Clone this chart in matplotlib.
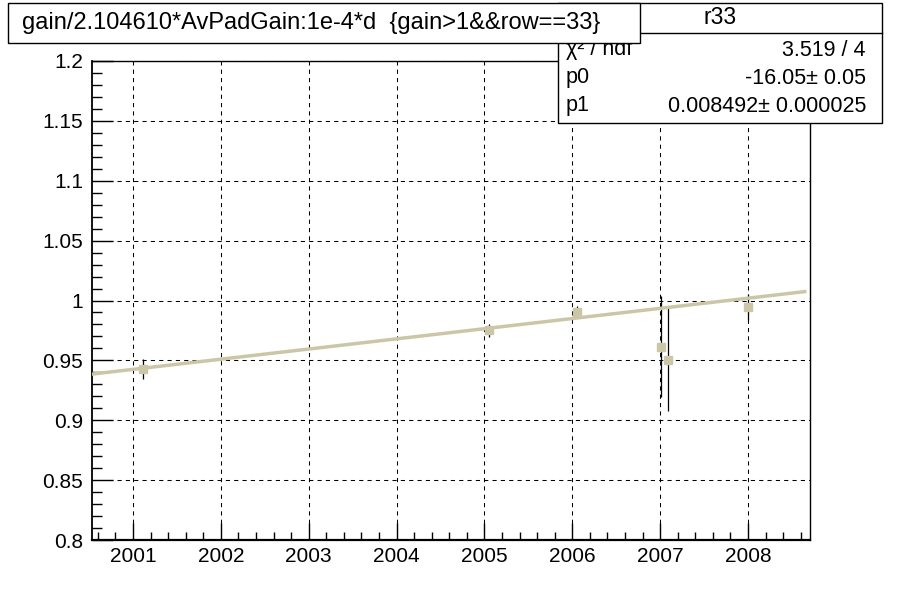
import matplotlib
matplotlib.use("Agg")
import matplotlib.pyplot as plt
import numpy as np
from matplotlib.patches import Rectangle
from matplotlib.ticker import MultipleLocator, FormatStrFormatter

plt.rcParams['font.family'] = ['Liberation Sans', 'DejaVu Sans']

# data points (year, relative gain, error)
years = [2001.12, 2005.05, 2006.05, 2007.01, 2007.09, 2008.00]
gain = [0.943, 0.975, 0.990, 0.9615, 0.9505, 0.9945]
gain_err = [0.0085, 0.0055, 0.005, 0.042, 0.043, 0.011]

# fit result pol1
p0 = -16.05
p1 = 0.008492
title = "gain/2.104610*AvPadGain:1e-4*d  {gain>1&&row==33}"
stats_name = "r33"
stats_rows = [("\u03c7\u00b2 / ndf", "3.519 / 4"),
              ("p0", "-16.05\u00b1 0.05"),
              ("p1", "0.008492\u00b1 0.000025")]

tan = "#ccc6a8"
xmin, xmax = 2000.534, 2008.705

fig = plt.figure(figsize=(9, 6), dpi=100)
ax = fig.add_axes([92 / 900, 60 / 600, 718 / 900, 479 / 600])
ax.set_xlim(xmin, xmax)
ax.set_ylim(0.8, 1.2)

# grid
ax.grid(True, which="major", color="black", lw=0.75, ls=(0, (4, 4)))
ax.set_axisbelow(True)

# error bars + markers
ax.errorbar(years, gain, yerr=gain_err, fmt="none", ecolor="black",
            elinewidth=0.9, capsize=0, zorder=3)
ax.plot(years, gain, "s", color=tan, ms=6.3, mec=tan, zorder=4)

# fit line
xf = np.linspace(xmin, xmax - 0.06, 200)
ax.plot(xf, p0 + p1 * xf, color=tan, lw=2.5, zorder=5)

# axes style (ROOT-like)
ax.xaxis.set_major_locator(MultipleLocator(1))
ax.xaxis.set_minor_locator(MultipleLocator(0.2))
ax.yaxis.set_major_locator(MultipleLocator(0.05))
ax.yaxis.set_minor_locator(MultipleLocator(0.01))
ax.xaxis.set_major_formatter(FormatStrFormatter("%d"))
ax.yaxis.set_major_formatter(
    matplotlib.ticker.FuncFormatter(lambda v, p: ("%.2f" % v).rstrip("0").rstrip(".") if abs(v - 1) > 1e-9 else "1"))
ax.tick_params(axis="both", which="both", direction="in", top=False,
               right=False, labelsize=15, color="black", width=1)
ax.tick_params(axis="y", which="major", length=15, pad=6.5)
ax.tick_params(axis="y", which="minor", length=7.2)
ax.tick_params(axis="x", which="major", length=12, pad=5)
ax.tick_params(axis="x", which="minor", length=5.8)
for s in ax.spines.values():
    s.set_linewidth(1.0)
ax.spines["bottom"].set_linewidth(1.6)
ax.spines["left"].set_linewidth(1.3)


def fx(px):
    return px / 900


def fy(py):
    return 1 - py / 600


# stats box
sb = Rectangle((fx(558), fy(123)), fx(882) - fx(558), fy(3) - fy(123),
               transform=fig.transFigure, facecolor="white",
               edgecolor="black", lw=1.0, zorder=10)
fig.add_artist(sb)
fig.add_artist(plt.Line2D([fx(558), fx(882)], [fy(33), fy(33)],
                          transform=fig.transFigure, color="black", lw=1.0, zorder=11))
fig.text(fx(720), fy(18), stats_name, ha="center", va="center", fontsize=16.5, zorder=12)
for i, (lab, val) in enumerate(stats_rows):
    yy = fy(50 + 28 * i)
    fig.text(fx(566), yy, lab, ha="left", va="center", fontsize=15.5, zorder=12)
    fig.text(fx(866), yy, val, ha="right", va="center", fontsize=15.5, zorder=12)

# title box (drawn over the stats box)
tb = Rectangle((fx(8), fy(43)), fx(640) - fx(8), fy(3) - fy(43),
               transform=fig.transFigure, facecolor="white",
               edgecolor="black", lw=1.0, zorder=20)
fig.add_artist(tb)
fig.text(fx(22), fy(23), title, ha="left", va="center", fontsize=17, zorder=21)

fig.savefig("out.png", dpi=100)
